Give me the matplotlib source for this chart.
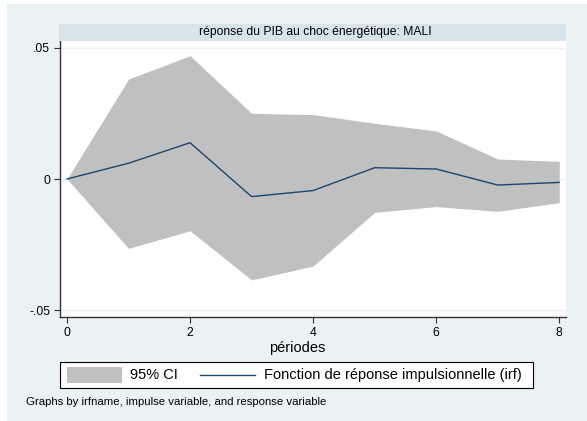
import matplotlib
matplotlib.use("Agg")
import matplotlib.pyplot as plt
from matplotlib.patches import Rectangle
from matplotlib.lines import Line2D

plt.rcParams['font.family'] = ['Liberation Sans', 'DejaVu Sans']

periods = [0, 1, 2, 3, 4, 5, 6, 7, 8]
irf = [0.0, 0.0060, 0.0138, -0.0067, -0.0044, 0.0043, 0.0038, -0.0023, -0.0013]
ci_upper = [0.0, 0.0380, 0.0469, 0.0250, 0.0245, 0.0212, 0.0183, 0.0076, 0.0067]
ci_lower = [0.0, -0.0264, -0.0197, -0.0384, -0.0331, -0.0127, -0.0105, -0.0123, -0.0090]
yticks = [-0.05, 0, 0.05]
ytick_labels = ["-.05", "0", ".05"]
xticks = [0, 2, 4, 6, 8]
legend_labels = ["95% CI", "Fonction de réponse impulsionnelle (irf)"]

W, H = 587, 421
bg = "#EAF2F3"
strip = "#D7E4EA"
navy = "#1A476F"
gray = "#C0C0C0"

fig = plt.figure(figsize=(W / 100, H / 100), dpi=100, facecolor=bg)

def fx(px):
    return px / W

def fy(py):
    return 1 - py / H

# thin white margins (top and left) as in the reference image
fig.patches.append(Rectangle((0, fy(4)), 1, fy(0) - fy(4), transform=fig.transFigure,
                             facecolor="white", edgecolor="none", zorder=0))
fig.patches.append(Rectangle((0, 0), fx(7), 1, transform=fig.transFigure,
                             facecolor="white", edgecolor="none", zorder=0))

# axes: x 60..566 px, y 41..317 px
ax = fig.add_axes([fx(60), fy(317), fx(566) - fx(60), fy(41) - fy(317)])
ax.set_facecolor("white")
ax.set_xlim(-0.114, 8.11)
ax.set_ylim(-0.0525, 0.0525)

for yv in yticks:
    ax.axhline(yv, color="#EAF2F3", lw=1.0, zorder=0)

ax.fill_between(periods, ci_lower, ci_upper, color=gray, lw=0, zorder=1)
ax.plot(periods, irf, color=navy, lw=1.0, zorder=2)

ax.set_yticks(yticks)
ax.set_yticklabels(ytick_labels, fontsize=8.7)
ax.set_xticks(xticks)
ax.set_xticklabels([str(v) for v in xticks], fontsize=8.7)
ax.tick_params(axis="both", direction="out", length=4.5, width=0.8, color="#333333", pad=2.5)

for side in ["top", "right"]:
    ax.spines[side].set_visible(False)
for side in ["left", "bottom"]:
    ax.spines[side].set_color("#333333")
    ax.spines[side].set_linewidth(1.0)

fig.text(fx(297), fy(348), "périodes", ha="center", va="center", fontsize=10.5)

# title strip
fig.patches.append(Rectangle((fx(59), fy(41)), fx(566) - fx(59), fy(24) - fy(41),
                             transform=fig.transFigure, facecolor=strip, edgecolor="none", zorder=0))
fig.text(fx(315), fy(32.5), "réponse du PIB au choc énergétique: MALI", ha="center", va="center", fontsize=8.7)

# legend (drawn manually)
fig.patches.append(Rectangle((fx(60), fy(388)), fx(533) - fx(60), fy(362) - fy(388),
                             transform=fig.transFigure, facecolor="white", edgecolor="black", lw=0.8, zorder=1))
fig.patches.append(Rectangle((fx(67), fy(383)), fx(122) - fx(67), fy(367) - fy(383),
                             transform=fig.transFigure, facecolor=gray, edgecolor="none", zorder=2))
fig.lines.append(Line2D([fx(200), fx(255)], [fy(375), fy(375)], transform=fig.transFigure,
                        color=navy, lw=1.0, zorder=2))
fig.text(fx(130), fy(375), legend_labels[0], ha="left", va="center", fontsize=10.5, zorder=3)
fig.text(fx(264), fy(375), legend_labels[1], ha="left", va="center", fontsize=10.5, zorder=3)

fig.text(fx(26), fy(402), "Graphs by irfname, impulse variable, and response variable", ha="left", va="center", fontsize=8.2)

fig.savefig("out.png", dpi=100, facecolor=bg)
